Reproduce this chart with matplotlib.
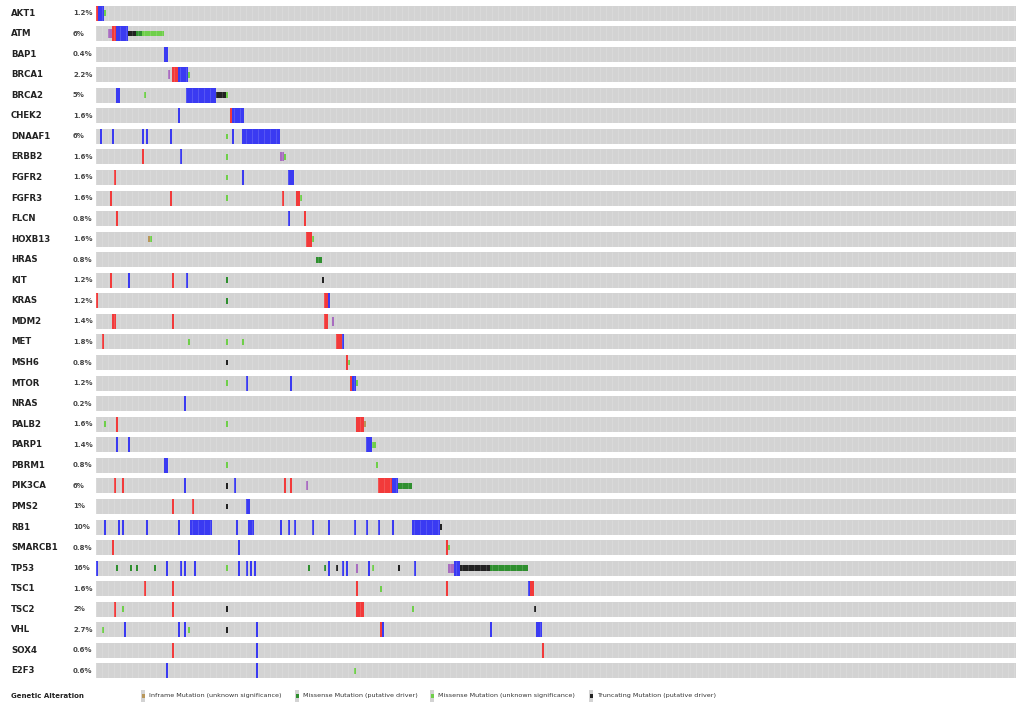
import matplotlib
matplotlib.use("Agg")
import matplotlib.pyplot as plt
from matplotlib.patches import Rectangle

# genes (top to bottom) and % altered
genes = ["AKT1", "ATM", "BAP1", "BRCA1", "BRCA2", "CHEK2", "DNAAF1", "ERBB2",
         "FGFR2", "FGFR3", "FLCN", "HOXB13", "HRAS", "KIT", "KRAS", "MDM2",
         "MET", "MSH6", "MTOR", "NRAS", "PALB2", "PARP1", "PBRM1", "PIK3CA",
         "PMS2", "RB1", "SMARCB1", "TP53", "TSC1", "TSC2", "VHL", "SOX4", "E2F3"]
pcts = ["1.2%", "6%", "0.4%", "2.2%", "5%", "1.6%", "6%", "1.6%", "1.6%", "1.6%",
        "0.8%", "1.6%", "0.8%", "1.2%", "1.2%", "1.4%", "1.8%", "0.8%", "1.2%",
        "0.2%", "1.6%", "1.4%", "0.8%", "6%", "1%", "10%", "0.8%", "16%", "1.6%",
        "2%", "2.7%", "0.6%", "0.6%"]
n_samples = 460  # visible columns

# events: (gene, first sample, number of samples)
amp = [("AKT1", 0, 1), ("ATM", 8, 2), ("BRCA1", 38, 3), ("CHEK2", 67, 1),
       ("ERBB2", 23, 1), ("FGFR2", 9, 1), ("FGFR3", 7, 1), ("FGFR3", 37, 1),
       ("FGFR3", 93, 1), ("FGFR3", 100, 2), ("FLCN", 10, 1), ("FLCN", 104, 1),
       ("HOXB13", 105, 3), ("KIT", 7, 1), ("KIT", 38, 1), ("KRAS", 0, 1),
       ("KRAS", 114, 2), ("MDM2", 8, 2), ("MDM2", 38, 1), ("MDM2", 114, 2),
       ("MET", 3, 1), ("MET", 120, 3), ("MSH6", 125, 1), ("MTOR", 127, 1),
       ("PALB2", 10, 1), ("PALB2", 130, 4), ("PIK3CA", 9, 1), ("PIK3CA", 13, 1),
       ("PIK3CA", 94, 1), ("PIK3CA", 97, 1), ("PIK3CA", 141, 7), ("PMS2", 38, 1),
       ("PMS2", 48, 1), ("SMARCB1", 8, 1), ("SMARCB1", 175, 1), ("TSC1", 24, 1),
       ("TSC1", 38, 1), ("TSC1", 130, 1), ("TSC1", 175, 1), ("TSC1", 217, 2),
       ("TSC2", 9, 1), ("TSC2", 38, 1), ("TSC2", 130, 4), ("VHL", 142, 1),
       ("SOX4", 38, 1), ("SOX4", 223, 1)]
deep_del = [("AKT1", 1, 3), ("ATM", 10, 6), ("BAP1", 34, 2), ("BRCA1", 41, 5),
            ("BRCA2", 10, 2), ("BRCA2", 45, 15), ("CHEK2", 41, 1), ("CHEK2", 68, 6),
            ("DNAAF1", 2, 1), ("DNAAF1", 8, 1), ("DNAAF1", 23, 1), ("DNAAF1", 25, 1),
            ("DNAAF1", 37, 1), ("DNAAF1", 68, 1), ("DNAAF1", 73, 19), ("ERBB2", 42, 1),
            ("FGFR2", 73, 1), ("FGFR2", 96, 3), ("FLCN", 96, 1), ("KIT", 16, 1),
            ("KIT", 45, 1), ("KRAS", 116, 1), ("MET", 123, 1), ("MTOR", 75, 1),
            ("MTOR", 97, 1), ("MTOR", 128, 2), ("NRAS", 44, 1), ("PARP1", 10, 1),
            ("PARP1", 16, 1), ("PARP1", 135, 3), ("PBRM1", 34, 2), ("PIK3CA", 44, 1),
            ("PIK3CA", 69, 1), ("PIK3CA", 148, 3), ("PMS2", 75, 2),
            ("RB1", 4, 1), ("RB1", 11, 1), ("RB1", 13, 1), ("RB1", 25, 1), ("RB1", 41, 1),
            ("RB1", 47, 11), ("RB1", 70, 1), ("RB1", 76, 3), ("RB1", 92, 1), ("RB1", 96, 1),
            ("RB1", 99, 1), ("RB1", 108, 1), ("RB1", 116, 1), ("RB1", 129, 1),
            ("RB1", 135, 1), ("RB1", 141, 1), ("RB1", 148, 1), ("RB1", 158, 14),
            ("SMARCB1", 71, 1), ("TP53", 0, 1), ("TP53", 35, 1), ("TP53", 42, 1),
            ("TP53", 44, 1), ("TP53", 49, 1), ("TP53", 71, 1), ("TP53", 75, 1),
            ("TP53", 77, 1), ("TP53", 79, 1), ("TP53", 116, 1), ("TP53", 123, 1),
            ("TP53", 125, 1), ("TP53", 136, 1), ("TP53", 159, 1), ("TP53", 179, 3),
            ("TSC1", 216, 1), ("VHL", 14, 1), ("VHL", 41, 1), ("VHL", 44, 1),
            ("VHL", 80, 1), ("VHL", 143, 1), ("VHL", 197, 1), ("VHL", 220, 3),
            ("SOX4", 80, 1), ("E2F3", 35, 1), ("E2F3", 80, 1)]
missense_driver = [("ATM", 20, 3), ("HRAS", 110, 3), ("KIT", 65, 1), ("KRAS", 65, 1),
                   ("PIK3CA", 151, 7), ("TP53", 10, 1), ("TP53", 17, 1), ("TP53", 20, 1),
                   ("TP53", 29, 1), ("TP53", 106, 1), ("TP53", 114, 1), ("TP53", 197, 19)]
missense_vus = [("AKT1", 4, 1), ("ATM", 23, 11), ("BRCA1", 46, 1), ("BRCA2", 24, 1),
                ("BRCA2", 65, 1), ("DNAAF1", 65, 1), ("ERBB2", 65, 1), ("ERBB2", 94, 1),
                ("FGFR2", 65, 1), ("FGFR3", 65, 1), ("FGFR3", 102, 1), ("HOXB13", 27, 1),
                ("HOXB13", 108, 1), ("MET", 46, 1), ("MET", 65, 1), ("MET", 73, 1),
                ("MSH6", 126, 1), ("MTOR", 65, 1), ("MTOR", 130, 1), ("PALB2", 4, 1),
                ("PALB2", 65, 1), ("PARP1", 138, 2), ("PBRM1", 65, 1), ("PBRM1", 140, 1),
                ("SMARCB1", 176, 1), ("TP53", 65, 1), ("TP53", 138, 1), ("TSC1", 142, 1),
                ("TSC2", 13, 1), ("TSC2", 158, 1), ("VHL", 3, 1), ("VHL", 46, 1),
                ("E2F3", 129, 1)]
truncating = [("ATM", 16, 4), ("BRCA2", 60, 5), ("KIT", 113, 1), ("MSH6", 65, 1),
              ("PIK3CA", 65, 1), ("PMS2", 65, 1), ("RB1", 172, 1), ("TP53", 120, 1),
              ("TP53", 151, 1), ("TP53", 182, 15), ("TSC2", 65, 1), ("TSC2", 219, 1),
              ("VHL", 65, 1)]
inframe = [("HOXB13", 26, 1), ("PALB2", 134, 1)]
other_mut = [("ATM", 6, 2), ("BRCA1", 36, 1), ("ERBB2", 92, 2), ("MDM2", 118, 1),
             ("PIK3CA", 105, 1), ("TP53", 130, 1), ("TP53", 176, 3)]

legend_labels = ["Inframe Mutation (unknown significance)",
                 "Missense Mutation (putative driver)",
                 "Missense Mutation (unknown significance)",
                 "Truncating Mutation (putative driver)"]

GREY = "#d3d3d3"
RED = "#f23a3a"
BLUE = "#3a3af2"
DKGREEN = "#2f8f2f"
LTGREEN = "#6fcf4a"
BLACK = "#222222"
TAN = "#b8975a"
PURPLE = "#a86cc0"

W, H = 1016, 707
fig = plt.figure(figsize=(W / 100, H / 100), dpi=100)

# oncoprint axes: row i centred at y = 13 + 20.56*i pixels
step = 20.56
top_px, bot_px = 3, 683
ax = fig.add_axes([96 / W, 1 - bot_px / H, 1 - 96 / W, (bot_px - top_px) / H])
ax.set_xlim(0, n_samples)
ax.set_ylim((bot_px - 13) / step, (top_px - 13) / step)
ax.axis("off")

row_h = 15 / step
idx = {g: i for i, g in enumerate(genes)}

for i in range(len(genes)):
    ax.add_patch(Rectangle((0, i - row_h / 2), n_samples, row_h, color=GREY, lw=0))
    ax.vlines(range(0, n_samples, 3), i - row_h / 2, i + row_h / 2,
              color="white", lw=0.4, alpha=0.25)

def draw_full(events, color):
    for g, s, n in events:
        ax.add_patch(Rectangle((s, idx[g] - row_h / 2), n, row_h, color=color, lw=0))

def draw_mut(events, color, frac=0.38):
    mh = row_h * frac
    for g, s, n in events:
        ax.add_patch(Rectangle((s + 0.1, idx[g] - mh / 2), n - 0.2, mh, color=color, lw=0))

draw_full(amp, RED)
draw_full(deep_del, BLUE)
draw_mut(missense_driver, DKGREEN)
draw_mut(missense_vus, LTGREEN)
draw_mut(truncating, BLACK)
draw_mut(inframe, TAN)
draw_mut(other_mut, PURPLE, frac=0.6)

# labels
for i, (g, p) in enumerate(zip(genes, pcts)):
    y = 1 - (13 + step * i) / H
    fig.text(11 / W, y, g, fontsize=6.2, fontweight="bold", va="center", color="#222222")
    fig.text(73 / W, y, p, fontsize=5, fontweight="bold", va="center", color="#444444")

# legend
ly = 1 - 696 / H
fig.text(11 / W, ly, "Genetic Alteration", fontsize=5, fontweight="bold", va="center",
         color="#222222")
lax = fig.add_axes([0, 0, 1, 1], zorder=3)
lax.set_xlim(0, W)
lax.set_ylim(H, 0)
lax.axis("off")
for x0, col, lab in zip([141, 295, 430, 589], [TAN, DKGREEN, LTGREEN, BLACK], legend_labels):
    lax.add_patch(Rectangle((x0, 690), 4, 12, color=GREY, lw=0))
    lax.add_patch(Rectangle((x0 + 0.5, 694), 3, 4, color=col, lw=0))
    lax.text(x0 + 8, 696, lab, fontsize=4.6, va="center", color="#333333")

plt.savefig("out.png", dpi=100)
